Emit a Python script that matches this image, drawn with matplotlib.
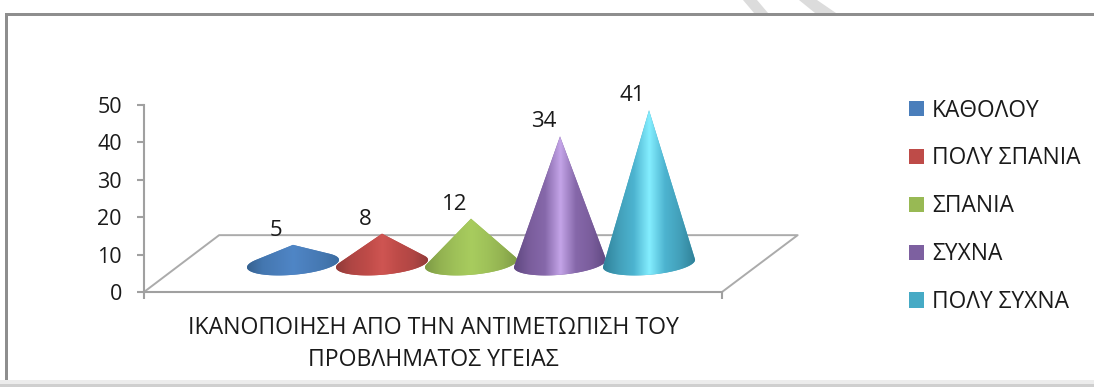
import math
import numpy as np
import matplotlib
matplotlib.use('Agg')
import matplotlib.pyplot as plt
from matplotlib.colors import LinearSegmentedColormap
from matplotlib.patches import Patch, Polygon, Rectangle

categories = ['ΚΑΘΟΛΟΥ', 'ΠΟΛΥ ΣΠΑΝΙΑ', 'ΣΠΑΝΙΑ', 'ΣΥΧΝΑ', 'ΠΟΛΥ ΣΥΧΝΑ']
values = [5, 8, 12, 34, 41]
yticks = [0, 10, 20, 30, 40, 50]
xlabel = 'ΙΚΑΝΟΠΟΙΗΣΗ ΑΠΟ ΤΗΝ ΑΝΤΙΜΕΤΩΠΙΣΗ ΤΟΥ\nΠΡΟΒΛΗΜΑΤΟΣ ΥΓΕΙΑΣ'
colors = ['#4a7ebb', '#be4b48', '#98b954', '#7d60a0', '#46aac5']
gradients = [
    ['#35618f', '#4477b0', '#4a7ebb', '#4f86c6', '#4a7ebb', '#4477b0', '#3a6a9f'],
    ['#8f3a38', '#b04644', '#be4b48', '#cf5552', '#be4b48', '#b04644', '#8f3a38'],
    ['#7d9a45', '#93b351', '#9fc259', '#a8cc5e', '#9fc259', '#93b351', '#7d9a45'],
    ['#5f4880', '#7a5d9c', '#8668aa', '#c4a4e8', '#8668aa', '#7a5d9c', '#5f4880'],
    ['#2f8199', '#429fb9', '#4db4d0', '#84eeff', '#4db4d0', '#429fb9', '#2f7f96'],
]

W, H = 1094, 387
plt.rcParams['font.family'] = ['Open Sans', 'DejaVu Sans']
fig = plt.figure(figsize=(W / 100, H / 100), dpi=100, facecolor='white')

# chart frame and the scan remains around it
for pts in ([(743, 0), (757, 0), (768, 13), (754, 13)], [(799, 0), (817, 0), (836, 13), (815, 13)]):
    fig.add_artist(Polygon([(a / W, 1 - b / H) for a, b in pts], transform=fig.transFigure, fc='#dcdcdc', ec='none'))
fig.add_artist(Rectangle((5 / W, 1 - 16 / H), 1, 3 / H, transform=fig.transFigure, fc='#8e8e8e', ec='none'))
fig.add_artist(Rectangle((5 / W, 0), 3 / W, 1 - 13 / H, transform=fig.transFigure, fc='#8e8e8e', ec='none'))
fig.add_artist(Rectangle((0, 0), 1, 3 / H, transform=fig.transFigure, fc='#cfcfcf', ec='none'))
fig.add_artist(Rectangle((0, 3 / H), 1, 4 / H, transform=fig.transFigure, fc='#ececec', ec='none'))

ax = fig.add_axes([144 / W, 1 - 292 / H, 578 / W, 187 / H])
ax.patch.set_alpha(0)
ax.set_xlim(-1.674, 4.82)
ax.set_ylim(0, 50)
for s in ['top', 'right']:
    ax.spines[s].set_visible(False)
for s in ['left', 'bottom']:
    ax.spines[s].set_color('#a0a0a0')
    ax.spines[s].set_linewidth(1.5)
ax.set_yticks(yticks)
ax.tick_params(axis='y', length=5, width=1.5, color='#a0a0a0', pad=11, labelsize=15.5, labelcolor='#1a1a1a')
ax.set_xticks([-1.674, 4.82])
ax.set_xticklabels(['', ''])
ax.tick_params(axis='x', length=5, width=1.5, color='#a0a0a0')
ax.set_xlabel(xlabel, fontsize=16.6, color='#1a1a1a', linespacing=1.4, labelpad=9)

# floor of the 3d box
floor = [(-1.674, 0), (-0.83, 15.2), (5.67, 15.2), (4.82, 0)]
ax.plot(*zip(*floor), color='#ababab', lw=1.4, clip_on=False, zorder=1)

base = 7.6
a, b, tilt = 0.517, 3.0, 1.0
for i, v in enumerate(values):
    t0 = math.asin(min(0.95, b / v))
    t = np.linspace(-t0, math.pi + t0, 80)
    xs = i + a * np.cos(t)
    ys = base - b * np.sin(t) + tilt * np.cos(t)
    verts = [(i, v + base)] + list(zip(xs, ys))
    patch = Polygon(verts, closed=True, fc=colors[i], ec='none', zorder=3 + i)
    ax.add_patch(patch)
    cmap = LinearSegmentedColormap.from_list('c%d' % i, gradients[i])
    im = ax.imshow(np.linspace(0, 1, 256).reshape(1, -1), extent=[i - a, i + a, 0, 50], cmap=cmap,
                   aspect='auto', zorder=3 + i, interpolation='bilinear')
    im.set_clip_path(patch)
    ax.annotate(str(v), (i, v + base), xytext=(-12, 10.5), textcoords='offset points', ha='center', va='center',
                fontsize=16, color='#1a1a1a', annotation_clip=False, zorder=10)
ax.set_xlim(-1.674, 4.82)
ax.set_ylim(0, 50)

handles = [Patch(fc=c, ec='none') for c in colors]
fig.legend(handles, categories, loc='upper left', bbox_to_anchor=(909 / W, 1 - 98.5 / H), frameon=False,
           fontsize=16.4, labelcolor='#1a1a1a', handlelength=0.66, handleheight=0.66, handletextpad=0.35,
           labelspacing=1.05, borderpad=0, borderaxespad=0)

fig.savefig('out.png', dpi=100)
